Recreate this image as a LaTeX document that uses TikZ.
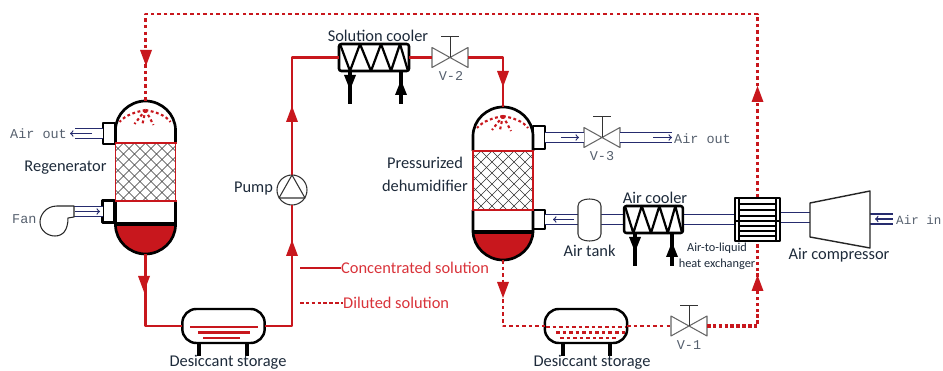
\documentclass[tikz,border=0pt]{standalone}
\usepackage{fontspec}
\setmainfont{Carlito}
\newfontfamily\monofnt{Liberation Mono}
\definecolor{solred}{HTML}{C8171D}
\definecolor{txtred}{HTML}{D9333A}
\definecolor{airblue}{HTML}{262C6E}
\definecolor{monogray}{HTML}{56606E}
\definecolor{txtnavy}{HTML}{1D2A3A}
\tikzset{
	concline/.style={solred,line width=1.9pt},
	dilline/.style={solred,line width=2.1pt,dash pattern=on 3pt off 2.6pt},
	dilthick/.style={solred,line width=3pt,dash pattern=on 3pt off 2pt},
	airpipe/.style={draw=airblue,line width=1pt,double=white,double distance=7.6pt},
	airflow/.style={airblue,line width=1pt,-to},
	portbox/.style={draw,fill=white,line width=2.3pt,minimum width=0.36cm,inner sep=0pt,outer sep=0pt},
	storebox/.style={draw,fill=white,line width=2.1pt,rounded corners=0.42cm,minimum width=2.47cm,minimum height=1.02cm,inner sep=0pt,outer sep=0pt},
	lab/.style={text=txtnavy,inner sep=0pt,font=\fontsize{14}{16}\selectfont},
	redlab/.style={text=txtred,inner sep=0pt,anchor=west,font=\fontsize{14}{16}\selectfont},
	monolab/.style={text=monogray,inner sep=0pt,font=\monofnt\fontsize{11.5}{13}\selectfont},
	spray/.style={solred,line width=1.8pt,dash pattern=on 2.4pt off 2.2pt},
	pics/vessel/.style n args={3}{code={
		\fill[white] (-30,29) .. controls (-30,13) and (-16,0) .. (0,0) .. controls (16,0) and (30,13) .. (30,29)
			-- (30,124) .. controls (30,140) and (16,153) .. (0,153) .. controls (-16,153) and (-30,140) .. (-30,124) -- cycle;
		\fill[solred] (-30,#3) -- (30,#3) .. controls (30,#3+16) and (16,153) .. (0,153) .. controls (-16,153) and (-30,#3+16) .. (-30,#3) -- cycle;
		\begin{scope}
			\clip (-30,#1) rectangle (30,#2);
			\foreach \k in {-9,...,3}{
				\draw[black!80,line width=0.5pt] (\k*11,#1) -- ++(62,62);
				\draw[black!80,line width=0.5pt] (-\k*11,#1) -- ++(-62,62);}
		\end{scope}
		\draw[line width=2.3pt] (-30,#1) -- (-30,29) .. controls (-30,13) and (-16,0) .. (0,0) .. controls (16,0) and (30,13) .. (30,29) -- (30,#1);
		\draw[line width=2.3pt] (-30,#2) -- (-30,124) .. controls (-30,140) and (-16,153) .. (0,153) .. controls (16,153) and (30,140) .. (30,124) -- (30,#2);
		\draw[solred,line width=1.3pt] (-30,#1) -- (-30,#2) (30,#1) -- (30,#2);
		\draw[solred,line width=2.4pt] (-31,#1) -- (31,#1) (-31,#2) -- (31,#2);
		\draw[line width=2.8pt] (-30,#3) -- (30,#3);
		\draw[spray] (0,9) .. controls (-10,11) and (-20,14) .. (-26,21);
		\draw[spray] (0,9) .. controls (10,11) and (20,14) .. (25,21);
		\draw[spray] (0,9) -- (-11,23);
		\draw[spray] (0,9) -- (-3,23);
		\draw[spray] (0,9) -- (8,24);
		\coordinate (-t) at (0,0);
		\coordinate (-b) at (0,153);
	}},
	pics/valve/.style={code={
		\draw[black!60,line width=0.9pt] (-18,-10) -- (18,10) -- (18,-10) -- (-18,10) -- cycle;
		\draw[black!80,line width=0.8pt] (0,0) -- (0,-21) (-9,-21) -- (9,-21);
		\coordinate (-w) at (-18,0);
		\coordinate (-e) at (18,0);
	}},
	pics/coil/.style={code={
		\draw[line width=2.2pt,rounded corners=2pt,fill=white] (-35,-13.5) rectangle (35,13.5);
		\draw[line width=1.9pt] (-34,-13.5) -- (-24,13.5) -- (-14,-13.5) -- (-3,13.5) -- (7,-13.5) -- (17,13.5) -- (26,-13.5) -- (34,13.5);
		\coordinate (-w) at (-35,0);
		\coordinate (-e) at (35,0);
	}}
}
\begin{document}
\begin{tikzpicture}[x=0.03cm,y=-0.03cm,line join=round]
	\useasboundingbox (0,0) rectangle (943,371);
	\node[storebox] (store1) at (223.5,326) {};
	\node[storebox] (store2) at (586,326) {};
	\node[circle,draw=black!80,fill=white,line width=0.9pt,minimum size=0.9cm,inner sep=0pt,outer sep=0pt] (pump) at (292,190) {};
	\node[draw=none,minimum width=1.35cm,minimum height=1.29cm,inner sep=0pt,outer sep=0pt] (hx) at (757.5,219.5) {};
	\node[portbox,minimum height=0.63cm] (regout) at (109,133.5) {};
	\node[portbox,minimum height=0.66cm] (regin) at (108.5,211.5) {};
	\node[portbox,minimum height=0.69cm] (dehout) at (539,137.5) {};
	\node[portbox,minimum height=0.57cm] (dehin) at (539,219.5) {};
	\coordinate (airout1) at (75,133.5);
	\coordinate (fanout) at (74,211.5);
	\coordinate (airout2) at (672,137.5);
	\coordinate (tankw) at (578,219.5);
	\coordinate (tanke) at (601,219.5);
	\coordinate (compw) at (810,217.5);
	\coordinate (compe) at (870,219);
	\coordinate (airin) at (893,219);
	\coordinate (topturn) at (145.5,14);
	% air side
	\draw[airpipe] (regout.west) -- (airout1);
	\draw[airpipe] (fanout) -- (regin.west);
	\pic (v3) at (602,137.5) {valve};
	\draw[airpipe] (dehout.east) -- (v3-w);
	\draw[airpipe] (v3-e) -- (airout2);
	\draw[airpipe] (dehin.east) -- (tankw);
	\draw[airpipe] (tanke) -- (hx.west);
	\draw[airpipe] (hx.east |- compw) -- (compw);
	\draw[airpipe] (compe) -- (airin);
	\draw[airflow] (92,133.5) -- (70,133.5);
	\draw[airflow] (75,211.5) -- (100,211.5);
	\draw[airflow] (561,137.5) -- (579,137.5);
	\draw[airflow] (653,137.5) -- (672,137.5);
	\draw[airflow] (574,219.5) -- (553,219.5);
	\draw[airflow] (893,219) -- (875,219);
	% solution side
	\pic (sc) at (374,57.5) {coil};
	\pic (v2) at (450,57.5) {valve};
	\pic (v1) at (689,326) {valve};
	\pic (ac) at (653.5,219.5) [xscale=0.84] {coil};
	\pic (regen) at (145.5,101) {vessel={42}{100}{123}};
	\pic (deh) at (503,107) {vessel={44}{103}{125}};
	\draw[concline] (regen-b) |- (store1.west);
	\draw[concline] (store1.east) -| (pump.south);
	\draw[concline] (pump.north) |- (sc-w);
	\draw[concline] (sc-e) -- (v2-w);
	\draw[concline] (v2-e) -| (deh-t);
	\draw[dilline] (hx.north) |- (topturn) -- (regen-t);
	\draw[dilline] (deh-b) |- (store2.west);
	\draw[dilline] (store2.east) -- (v1-w);
	\draw[dilthick] (v1-e) -| (hx.south);
	\foreach \x/\y/\a in {146/58/0,144/284/0,292/114/180,292/248/180,503/79/0,503/290/0,757.5/94/180,757.5/283/180}{
		\fill[solred,shift={(\x,\y)},rotate=\a] (-6,-8) -- (6,-8) -- (0,8) -- cycle;}
	\foreach \x in {199,247,563,610}{
		\draw[line width=3.2pt] (\x,344) -- (\x,356);}
	\foreach \x/\y in {350/71,635/233}{
		\draw[line width=2.8pt] (\x,\y) -- ++(0,33);
		\fill[shift={(\x,\y)}] (-6,4) -- (6,4) -- (0,19) -- cycle;}
	\foreach \x/\y in {401/71,672/233}{
		\draw[line width=2.8pt] (\x,\y) -- ++(0,33);
		\fill[shift={(\x,\y)}] (-6,24) -- (6,24) -- (0,9) -- cycle;}
	\draw[solred,line width=2pt] (190,327) -- (258,327) (198,332.5) -- (250,332.5) (203,338) -- (240,338);
	\draw[dilline] (546,327) -- (626,327) (556,332.5) -- (625,332.5) (560,338) -- (617,338);
	% other equipment
	\draw[black!80,line width=0.9pt] (292,175) -- (279,198) -- (305,198) -- cycle;
	\draw[black!85,line width=0.9pt,fill=white] (74,206) -- (57,206) .. controls (46,206) and (40,215) .. (40,222) .. controls (40,231) and (48,236) .. (55,236) .. controls (63,236) and (68,230) .. (68,218) -- (74,217) -- cycle;
	\draw[black!80,line width=0.9pt,fill=white] (578,206) .. controls (578,201) and (584,199) .. (589.5,199) .. controls (595,199) and (601,201) .. (601,206) -- (601,234) .. controls (601,239) and (595,241) .. (589.5,241) .. controls (584,241) and (578,239) .. (578,234) -- cycle;
	\draw[black!85,line width=1.2pt,fill=white] (810,203) -- (870,191) -- (870,248) -- (810,237) -- cycle;
	\draw[line width=1.3pt,fill=white] (hx.north west) rectangle (hx.south east);
	\draw[line width=1.3pt] (739,198) -- (739,241) (776,198) -- (776,241);
	\foreach \y in {204,210,216,226,231,236}{
		\draw[line width=1pt] (739,\y) -- (776,\y);}
	\draw[line width=2pt] (735,221) -- (780,221);
	% labels
	\node[monolab,anchor=west] (lblout1) at (10,134) {Air out};
	\node[monolab,anchor=west] (lblfan) at (12,219) {Fan};
	\node[monolab,anchor=west] (lblout2) at (674,139) {Air out};
	\node[monolab,anchor=west,font=\monofnt\fontsize{10.7}{13}\selectfont] (lblin) at (896,220) {Air in};
	\node[monolab] (lblv2) at (451,76) {V-2};
	\node[monolab] (lblv3) at (602,156) {V-3};
	\node[monolab] (lblv1) at (689,345) {V-1};
	\node[lab] (lblreg) at (65.5,168) {Regenerator};
	\node[lab] (lblpump) at (253.5,188.5) {Pump};
	\node[lab] (lblsc) at (378,36) {Solution cooler};
	\node[lab] (lbldeh1) at (425,163) {Pressurized};
	\node[lab] (lbldeh2) at (425,186) {dehumidifier};
	\node[lab] (lblac) at (655,198) {Air cooler};
	\node[lab] (lbltank) at (589.5,251) {Air tank};
	\node[lab] (lblcomp) at (839,255) {Air compressor};
	\node[lab,font=\fontsize{10.5}{12}\selectfont] (lblhx1) at (717,248) {Air-to-liquid};
	\node[lab,font=\fontsize{10.5}{12}\selectfont] (lblhx2) at (717,264) {heat exchanger};
	\node[lab] (lblst1) at (228,362) {Desiccant storage};
	\node[lab] (lblst2) at (592,362) {Desiccant storage};
	\node[redlab] (lblconc) at (341,268) {Concentrated solution};
	\node[redlab] (lbldil) at (343,303) {Diluted solution};
	\coordinate (legend1) at (300,268);
	\coordinate (legend2) at (300,303);
	\draw[solred,line width=2.4pt] (legend1) -- (lblconc.west);
	\draw[dilthick,line width=2.2pt] (legend2) -- (lbldil.west);
\end{tikzpicture}
\end{document}
